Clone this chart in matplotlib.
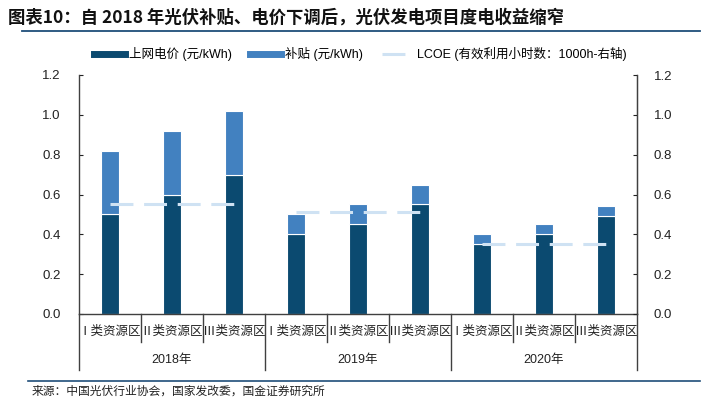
import matplotlib
matplotlib.use("Agg")
import matplotlib.pyplot as plt
from matplotlib.lines import Line2D
from matplotlib import transforms
import numpy as np

plt.rcParams['font.family'] = ['Liberation Sans', 'Noto Sans CJK SC', 'DejaVu Sans']

years = ["2018年", "2019年", "2020年"]
regions = ["Ⅰ类资源区", "Ⅱ类资源区", "Ⅲ类资源区"]
grid_price = [0.50, 0.60, 0.70, 0.40, 0.45, 0.55, 0.35, 0.40, 0.49]
subsidy = [0.32, 0.32, 0.32, 0.10, 0.10, 0.10, 0.05, 0.05, 0.05]
lcoe = [0.55, 0.51, 0.35]

dark = "#0b4a70"
light = "#4281c0"
lcoe_color = "#cfe2f3"
axis_color = "#404040"

fig = plt.figure(figsize=(7.07, 3.99), dpi=100)
W, H = 707, 399


def fx(px):
    return px / W


def fy(py):
    return 1 - py / H


ax = fig.add_axes([fx(79), fy(314), fx(637) - fx(79), fy(75) - fy(314)])
x = np.arange(len(grid_price))
bw = 0.29
ax.bar(x, grid_price, bw, color=dark, edgecolor="white", linewidth=0.8, zorder=2)
ax.bar(x, subsidy, bw, bottom=grid_price, color=light, edgecolor="white",
       linewidth=0.8, zorder=2)

yt = np.arange(0, 1.21, 0.2)
ax.set_xlim(-0.5, len(grid_price) - 0.5)
ax.set_ylim(0, 1.2)
ax.set_yticks(yt)
ax.set_yticklabels([f"{v:.1f}" for v in yt])
ax.set_xticks([])
ax.spines["top"].set_visible(False)
for s in ["left", "right", "bottom"]:
    ax.spines[s].set_color(axis_color)
    ax.spines[s].set_linewidth(1.0)
ax.tick_params(axis="y", direction="in", length=3, labelsize=9.5,
               colors="#222222", pad=13)

ax2 = ax.twinx()
ax2.set_ylim(0, 1.2)
ax2.set_yticks(yt)
ax2.set_yticklabels([f"{v:.1f}" for v in yt])
ax2.tick_params(axis="y", direction="in", length=3, labelsize=9.5,
                colors="#222222", pad=12)
for s in ["top", "left", "bottom"]:
    ax2.spines[s].set_visible(False)
ax2.spines["right"].set_color(axis_color)
for i, v in enumerate(lcoe):
    ax2.plot([3 * i, 3 * i + 2], [v, v], color=lcoe_color, lw=2.2,
             dashes=(7.5, 3.5), zorder=3)

# multi-level category axis
trans = transforms.blended_transform_factory(ax.transData, fig.transFigure)
for i in range(len(grid_price)):
    ax.text(i, fy(332), regions[i % 3], transform=trans,
            ha="center", va="center", fontsize=9, color="#222222")
for i, y in enumerate(years):
    ax.text(3 * i + 1, fy(360), y, transform=trans, ha="center", va="center",
            fontsize=9, color="#222222")
for b in np.arange(-0.5, len(grid_price), 1.0):
    low = 370 if (b + 0.5) % 3 == 0 else 342
    fig.add_artist(Line2D([b, b], [fy(314), fy(low)], transform=trans,
                          color=axis_color, lw=1.0))

# title and separators
fig.text(fx(8), fy(18), "图表10：自 2018 年光伏补贴、电价下调后，光伏发电项目度电收益缩窄",
         fontsize=12.5, fontweight="bold", color="#111111", va="center",
         family=["Noto Sans CJK SC"], style="italic")
fig.add_artist(Line2D([fx(22), fx(700)], [fy(31), fy(31)], color="#1f4e79", lw=1.3))
fig.add_artist(Line2D([fx(28), fx(700)], [fy(381), fy(381)], color="#1f4e79", lw=1.2))
fig.text(fx(32), fy(391), "来源：中国光伏行业协会，国家发改委，国金证券研究所",
         fontsize=8.5, color="#222222", va="center", family=["Noto Sans CJK SC"])

handles = [
    Line2D([], [], color=dark, lw=5),
    Line2D([], [], color=light, lw=5),
    Line2D([], [], color=lcoe_color, lw=2.2, dashes=(7.5, 3.5)),
]
labels = ["上网电价 (元/kWh)", "补贴 (元/kWh)", "LCOE (有效利用小时数：1000h-右轴)"]
fig.legend(handles, labels, loc="center", bbox_to_anchor=(fx(360), fy(54)),
           ncol=3, frameon=False, fontsize=9, handlelength=2.5,
           columnspacing=1.5, handletextpad=0.3)

fig.savefig("out.png", dpi=100)
